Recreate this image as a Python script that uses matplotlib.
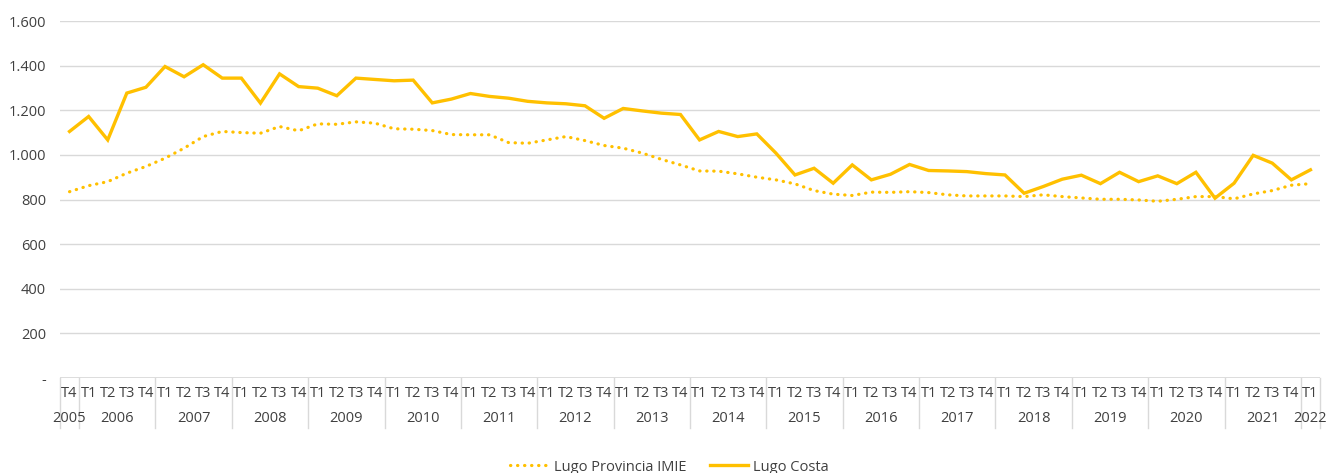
import matplotlib
matplotlib.use("Agg")
import matplotlib.pyplot as plt
from matplotlib.lines import Line2D
import matplotlib.transforms as mtransforms

# quarterly series, T4 2005 .. T1 2022
years = ["2005"] + [str(y) for y in range(2006, 2022)] + ["2022"]
quarters = ["T4"] + ["T1", "T2", "T3", "T4"] * 16 + ["T1"]
year_sizes = [1] + [4] * 16 + [1]

lugo_costa = [
    1105, 1172, 1067, 1277, 1303, 1396, 1350, 1404, 1344, 1344, 1232, 1363,
    1306, 1299, 1265, 1344, 1338, 1332, 1335, 1233, 1250, 1275, 1262, 1254,
    1240, 1233, 1229, 1220, 1164, 1208, 1197, 1187, 1181, 1067, 1105, 1082,
    1094, 1008, 910, 940, 873, 955, 888, 913, 957, 930, 928, 925,
    916, 910, 828, 858, 891, 909, 871, 922, 880, 906, 871, 922,
    806, 873, 998, 963, 888, 933,
]
lugo_imie = [
    835, 862, 880, 918, 948, 985, 1030, 1082, 1105, 1100, 1097, 1127,
    1108, 1139, 1137, 1148, 1142, 1117, 1115, 1109, 1091, 1090, 1090, 1055,
    1052, 1067, 1082, 1064, 1042, 1030, 1008, 980, 955, 928, 927, 915,
    900, 888, 870, 840, 824, 818, 833, 832, 835, 831, 821, 816,
    816, 816, 813, 821, 813, 807, 801, 801, 798, 792, 801, 813,
    813, 803, 825, 840, 864, 871,
]

GOLD = "#FFC000"
GRID = "#d9d9d9"
TXT = "#404040"
plt.rcParams["font.family"] = ["Open Sans", "DejaVu Sans"]

W, H = 1326, 473
fig = plt.figure(figsize=(W / 100, H / 100), dpi=100)
ax = fig.add_axes([60 / W, (H - 378) / H, 1260 / W, (378 - 21) / H])

x = list(range(len(quarters)))
ax.plot(x, lugo_imie, color=GOLD, lw=2.3, ls=(0, (0.1, 2.1)),
        dash_capstyle="round", solid_capstyle="round")
ax.plot(x, lugo_costa, color=GOLD, lw=2.4, solid_joinstyle="miter")

ax.set_xlim(-0.5, len(x) - 0.5)
ax.set_ylim(0, 1600)
yt = list(range(0, 1601, 200))
ax.set_yticks(yt)
ax.set_yticklabels(["-" if v == 0 else f"{v:,}".replace(",", ".") for v in yt])
ax.tick_params(axis="y", length=0, pad=10, labelsize=10.5, labelcolor=TXT)
ax.set_xticks([])
ax.grid(axis="y", color=GRID, lw=1.0)
ax.set_axisbelow(True)
for s in ax.spines.values():
    s.set_visible(False)
ax.axhline(0, color=GRID, lw=1.2, zorder=0.5)

# two-level category axis: quarters on top, years underneath
trans = mtransforms.blended_transform_factory(ax.transData, ax.transAxes)
px = 1 / (378 - 21)
for i, q in enumerate(quarters):
    ax.text(i, -15 * px, q, transform=trans, ha="center", va="center",
            fontsize=10.5, color=TXT)
start = -0.5
for yr, n in zip(years, year_sizes):
    ax.text(start + n / 2, -40 * px, yr, transform=trans, ha="center",
            va="center", fontsize=10.5, color=TXT)
    ax.plot([start, start], [0, -50 * px], transform=trans, color=GRID,
            lw=1.0, clip_on=False)
    start += n
ax.plot([start, start], [0, -50 * px], transform=trans, color=GRID,
        lw=1.0, clip_on=False)

handles = [
    Line2D([], [], color=GOLD, lw=2.3, ls=(0, (0.1, 2.1)), dash_capstyle="round"),
    Line2D([], [], color=GOLD, lw=2.4),
]
fig.legend(handles, ["Lugo Provincia IMIE", "Lugo Costa"], loc="center",
           bbox_to_anchor=(0.505, 6 / H), ncol=2, frameon=False,
           fontsize=10.5, labelcolor=TXT, handlelength=2.6,
           handletextpad=0.4, columnspacing=1.6)

fig.savefig("out.png", dpi=100)
